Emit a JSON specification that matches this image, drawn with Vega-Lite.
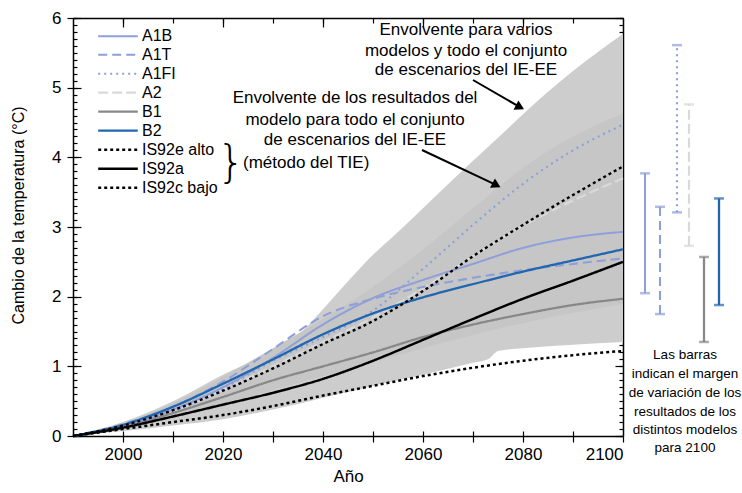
{
  "$schema": "https://vega.github.io/schema/vega-lite/v6.json",
  "width": 550,
  "height": 418,
  "autosize": {"type": "none"},
  "padding": {"left": 73, "top": 18, "right": 119, "bottom": 57},
  "background": "white",
  "config": {
    "view": {"stroke": null},
    "font": "Liberation Sans",
    "axis": {"zindex": 1, "grid": false, "domainColor": "black", "tickColor": "black", "labelColor": "black", "titleColor": "black", "domainWidth": 1.5, "tickWidth": 1.2, "labelFont": "Liberation Sans", "titleFont": "Liberation Sans"}
  },
  "resolve": {"axis": {"x": "independent", "y": "independent"}},
  "datasets": {
    "outer": [
      {"year": 1990, "lo": 0, "hi": 0},
      {"year": 2000, "lo": 0.07, "hi": 0.2},
      {"year": 2010, "lo": 0.15, "hi": 0.5},
      {"year": 2020, "lo": 0.24, "hi": 0.88},
      {"year": 2030, "lo": 0.38, "hi": 1.22},
      {"year": 2035, "lo": 0.46, "hi": 1.45},
      {"year": 2040, "lo": 0.55, "hi": 1.82},
      {"year": 2045, "lo": 0.63, "hi": 2.22},
      {"year": 2050, "lo": 0.72, "hi": 2.6},
      {"year": 2055, "lo": 0.8, "hi": 2.93},
      {"year": 2060, "lo": 0.88, "hi": 3.27},
      {"year": 2070, "lo": 1.05, "hi": 3.95},
      {"year": 2073, "lo": 1.1, "hi": 4.15},
      {"year": 2075, "lo": 1.22, "hi": 4.28},
      {"year": 2080, "lo": 1.26, "hi": 4.62},
      {"year": 2090, "lo": 1.31, "hi": 5.24},
      {"year": 2100, "lo": 1.35, "hi": 5.77}
    ],
    "inner": [
      {"year": 1990, "lo": 0, "hi": 0},
      {"year": 2000, "lo": 0.1, "hi": 0.18},
      {"year": 2010, "lo": 0.26, "hi": 0.47},
      {"year": 2020, "lo": 0.45, "hi": 0.85},
      {"year": 2030, "lo": 0.66, "hi": 1.26},
      {"year": 2040, "lo": 0.86, "hi": 1.68},
      {"year": 2050, "lo": 1.06, "hi": 2.14},
      {"year": 2060, "lo": 1.26, "hi": 2.68},
      {"year": 2070, "lo": 1.45, "hi": 3.27},
      {"year": 2080, "lo": 1.62, "hi": 3.85},
      {"year": 2090, "lo": 1.77, "hi": 4.3},
      {"year": 2100, "lo": 1.9, "hi": 4.63}
    ],
    "lines": [
      {"s": "A2", "year": 1990, "t": 0}, {"s": "A2", "year": 2000, "t": 0.14}, {"s": "A2", "year": 2010, "t": 0.36}, {"s": "A2", "year": 2020, "t": 0.66}, {"s": "A2", "year": 2030, "t": 1.0}, {"s": "A2", "year": 2040, "t": 1.35}, {"s": "A2", "year": 2050, "t": 1.7}, {"s": "A2", "year": 2060, "t": 2.12}, {"s": "A2", "year": 2070, "t": 2.58}, {"s": "A2", "year": 2080, "t": 3.02}, {"s": "A2", "year": 2090, "t": 3.38}, {"s": "A2", "year": 2100, "t": 3.7},
      {"s": "B1", "year": 1990, "t": 0}, {"s": "B1", "year": 2000, "t": 0.13}, {"s": "B1", "year": 2010, "t": 0.33}, {"s": "B1", "year": 2020, "t": 0.56}, {"s": "B1", "year": 2030, "t": 0.8}, {"s": "B1", "year": 2040, "t": 1.0}, {"s": "B1", "year": 2050, "t": 1.2}, {"s": "B1", "year": 2060, "t": 1.42}, {"s": "B1", "year": 2070, "t": 1.6}, {"s": "B1", "year": 2080, "t": 1.75}, {"s": "B1", "year": 2090, "t": 1.88}, {"s": "B1", "year": 2100, "t": 1.97},
      {"s": "A1B", "year": 1990, "t": 0}, {"s": "A1B", "year": 2000, "t": 0.15}, {"s": "A1B", "year": 2010, "t": 0.38}, {"s": "A1B", "year": 2020, "t": 0.7}, {"s": "A1B", "year": 2030, "t": 1.12}, {"s": "A1B", "year": 2040, "t": 1.6}, {"s": "A1B", "year": 2050, "t": 1.98}, {"s": "A1B", "year": 2060, "t": 2.24}, {"s": "A1B", "year": 2070, "t": 2.47}, {"s": "A1B", "year": 2080, "t": 2.7}, {"s": "A1B", "year": 2090, "t": 2.85}, {"s": "A1B", "year": 2100, "t": 2.93},
      {"s": "A1T", "year": 1990, "t": 0}, {"s": "A1T", "year": 2000, "t": 0.17}, {"s": "A1T", "year": 2010, "t": 0.42}, {"s": "A1T", "year": 2020, "t": 0.78}, {"s": "A1T", "year": 2030, "t": 1.25}, {"s": "A1T", "year": 2040, "t": 1.72}, {"s": "A1T", "year": 2050, "t": 1.97}, {"s": "A1T", "year": 2060, "t": 2.14}, {"s": "A1T", "year": 2070, "t": 2.27}, {"s": "A1T", "year": 2080, "t": 2.38}, {"s": "A1T", "year": 2090, "t": 2.47}, {"s": "A1T", "year": 2100, "t": 2.55},
      {"s": "A1FI", "year": 1990, "t": 0}, {"s": "A1FI", "year": 2000, "t": 0.14}, {"s": "A1FI", "year": 2010, "t": 0.36}, {"s": "A1FI", "year": 2020, "t": 0.68}, {"s": "A1FI", "year": 2030, "t": 1.08}, {"s": "A1FI", "year": 2040, "t": 1.42}, {"s": "A1FI", "year": 2050, "t": 1.8}, {"s": "A1FI", "year": 2060, "t": 2.4}, {"s": "A1FI", "year": 2070, "t": 3.03}, {"s": "A1FI", "year": 2080, "t": 3.62}, {"s": "A1FI", "year": 2090, "t": 4.1}, {"s": "A1FI", "year": 2100, "t": 4.47},
      {"s": "B2", "year": 1990, "t": 0}, {"s": "B2", "year": 2000, "t": 0.16}, {"s": "B2", "year": 2010, "t": 0.42}, {"s": "B2", "year": 2020, "t": 0.75}, {"s": "B2", "year": 2030, "t": 1.1}, {"s": "B2", "year": 2040, "t": 1.46}, {"s": "B2", "year": 2050, "t": 1.76}, {"s": "B2", "year": 2060, "t": 1.99}, {"s": "B2", "year": 2070, "t": 2.18}, {"s": "B2", "year": 2080, "t": 2.36}, {"s": "B2", "year": 2090, "t": 2.52}, {"s": "B2", "year": 2100, "t": 2.68},
      {"s": "IS92c bajo", "year": 1990, "t": 0}, {"s": "IS92c bajo", "year": 2000, "t": 0.1}, {"s": "IS92c bajo", "year": 2010, "t": 0.2}, {"s": "IS92c bajo", "year": 2020, "t": 0.3}, {"s": "IS92c bajo", "year": 2030, "t": 0.43}, {"s": "IS92c bajo", "year": 2040, "t": 0.58}, {"s": "IS92c bajo", "year": 2050, "t": 0.72}, {"s": "IS92c bajo", "year": 2060, "t": 0.86}, {"s": "IS92c bajo", "year": 2070, "t": 0.98}, {"s": "IS92c bajo", "year": 2080, "t": 1.08}, {"s": "IS92c bajo", "year": 2090, "t": 1.16}, {"s": "IS92c bajo", "year": 2100, "t": 1.22},
      {"s": "IS92a", "year": 1990, "t": 0}, {"s": "IS92a", "year": 2000, "t": 0.12}, {"s": "IS92a", "year": 2010, "t": 0.28}, {"s": "IS92a", "year": 2020, "t": 0.45}, {"s": "IS92a", "year": 2030, "t": 0.62}, {"s": "IS92a", "year": 2040, "t": 0.82}, {"s": "IS92a", "year": 2050, "t": 1.08}, {"s": "IS92a", "year": 2060, "t": 1.38}, {"s": "IS92a", "year": 2070, "t": 1.68}, {"s": "IS92a", "year": 2080, "t": 1.97}, {"s": "IS92a", "year": 2090, "t": 2.23}, {"s": "IS92a", "year": 2100, "t": 2.5},
      {"s": "IS92e alto", "year": 1990, "t": 0}, {"s": "IS92e alto", "year": 2000, "t": 0.15}, {"s": "IS92e alto", "year": 2010, "t": 0.37}, {"s": "IS92e alto", "year": 2020, "t": 0.65}, {"s": "IS92e alto", "year": 2030, "t": 0.97}, {"s": "IS92e alto", "year": 2040, "t": 1.32}, {"s": "IS92e alto", "year": 2050, "t": 1.65}, {"s": "IS92e alto", "year": 2060, "t": 2.08}, {"s": "IS92e alto", "year": 2070, "t": 2.58}, {"s": "IS92e alto", "year": 2080, "t": 3.03}, {"s": "IS92e alto", "year": 2090, "t": 3.46}, {"s": "IS92e alto", "year": 2100, "t": 3.87}
    ],
    "bars": [
      {"s": "A1B", "x": 2104.4, "lo": 2.05, "hi": 3.77},
      {"s": "A1T", "x": 2107.4, "lo": 1.75, "hi": 3.29},
      {"s": "A1FI", "x": 2110.8, "lo": 3.21, "hi": 5.61},
      {"s": "A2", "x": 2113.2, "lo": 2.73, "hi": 4.76},
      {"s": "B1", "x": 2116.2, "lo": 1.35, "hi": 2.57},
      {"s": "B2", "x": 2119.2, "lo": 1.88, "hi": 3.41}
    ],
    "notes": [
      {"x": 2068.6, "y": 5.83, "text": "Envolvente para varios"},
      {"x": 2068.6, "y": 5.53, "text": "modelos y todo el conjunto"},
      {"x": 2068.6, "y": 5.25, "text": "de escenarios del IE-EE"},
      {"x": 2046.4, "y": 4.85, "text": "Envolvente de los resultados del"},
      {"x": 2046.4, "y": 4.54, "text": "modelo para todo el conjunto"},
      {"x": 2046.4, "y": 4.25, "text": "de escenarios del IE-EE"}
    ],
    "method": [
      {"x": 2024.0, "y": 3.92, "text": "(método del TIE)"}
    ],
    "brace": [
      {"x": 2021.6, "y": 3.91, "text": "}"}
    ],
    "barnote": [
      {"x": 2112.4, "y": 1.163, "text": "Las barras"},
      {"x": 2112.4, "y": 0.89, "text": "indican el margen"},
      {"x": 2112.4, "y": 0.617, "text": "de variación de los"},
      {"x": 2112.4, "y": 0.344, "text": "resultados de los"},
      {"x": 2112.4, "y": 0.086, "text": "distintos modelos"},
      {"x": 2112.4, "y": -0.172, "text": "para 2100"}
    ],
    "arrows": [
      {"x1": 2070.0, "y1": 5.11, "x2": 2079.4, "y2": 4.72},
      {"x1": 2059.8, "y1": 4.105, "x2": 2074.7, "y2": 3.6}
    ]
  },
  "layer": [
    {
      "data": {"name": "outer"},
      "mark": {"type": "area", "color": "#cdcdcd", "interpolate": "monotone"},
      "encoding": {
        "x": {"field": "year", "type": "quantitative", "scale": {"domain": [1990, 2100], "nice": false, "zero": false},
          "axis": {"orient": "bottom", "values": [2000, 2010, 2020, 2030, 2040, 2050, 2060, 2070, 2080, 2090, 2100], "format": "d", "labelExpr": "datum.value % 20 === 0 ? datum.label : ''", "labelOverlap": false, "tickSize": 6, "labelPadding": 4, "labelFontSize": 17, "title": "Año", "titleFontSize": 17, "titleFontWeight": "normal", "titlePadding": 6}},
        "y": {"field": "lo", "type": "quantitative", "scale": {"domain": [0, 6], "nice": false, "zero": false},
          "axis": {"orient": "left", "values": [0, 1, 2, 3, 4, 5, 6], "tickSize": 6, "labelPadding": 6, "labelFontSize": 17, "title": "Cambio de la temperatura (°C)", "titleFontSize": 16, "titleFontWeight": "normal", "titleX": -55, "titleY": 197, "titleAngle": -90, "titleAlign": "center", "titleBaseline": "middle"}},
        "y2": {"field": "hi"}
      }
    },
    {
      "data": {"name": "inner"},
      "mark": {"type": "area", "color": "#c6c6c6", "interpolate": "monotone"},
      "encoding": {
        "x": {"field": "year", "type": "quantitative",
          "axis": {"orient": "top", "values": [2000, 2010, 2020, 2030, 2040, 2050, 2060, 2070, 2080, 2090], "tickSize": -5, "labels": false, "title": null}},
        "y": {"field": "lo", "type": "quantitative",
          "axis": {"orient": "right", "values": [0, 0.1, 0.2, 0.3, 0.4, 0.5, 0.6, 0.7, 0.8, 0.9, 1, 1.1, 1.2, 1.3, 1.4, 1.5, 1.6, 1.7, 1.8, 1.9, 2, 2.1, 2.2, 2.3, 2.4, 2.5, 2.6, 2.7, 2.8, 2.9, 3, 3.1, 3.2, 3.3, 3.4, 3.5, 3.6, 3.7, 3.8, 3.9, 4, 4.1, 4.2, 4.3, 4.4, 4.5, 4.6, 4.7, 4.8, 4.9, 5, 5.1, 5.2, 5.3, 5.4, 5.5, 5.6, 5.7, 5.8, 5.9, 6], "tickSize": -4, "labels": false, "title": null}},
        "y2": {"field": "hi"}
      }
    },
    {
      "data": {"name": "lines"},
      "mark": {"type": "line", "interpolate": "monotone"},
      "encoding": {
        "x": {"field": "year", "type": "quantitative",
          "axis": {"orient": "bottom", "values": [2000, 2010, 2020, 2030, 2040, 2050, 2060, 2070, 2080, 2090], "tickSize": -5, "labels": false, "domain": false, "title": null}},
        "y": {"field": "t", "type": "quantitative",
          "axis": {"orient": "left", "values": [0, 0.1, 0.2, 0.3, 0.4, 0.5, 0.6, 0.7, 0.8, 0.9, 1, 1.1, 1.2, 1.3, 1.4, 1.5, 1.6, 1.7, 1.8, 1.9, 2, 2.1, 2.2, 2.3, 2.4, 2.5, 2.6, 2.7, 2.8, 2.9, 3, 3.1, 3.2, 3.3, 3.4, 3.5, 3.6, 3.7, 3.8, 3.9, 4, 4.1, 4.2, 4.3, 4.4, 4.5, 4.6, 4.7, 4.8, 4.9, 5, 5.1, 5.2, 5.3, 5.4, 5.5, 5.6, 5.7, 5.8, 5.9, 6], "tickSize": -4, "labels": false, "domain": false, "title": null}},
        "color": {"field": "s", "type": "nominal",
          "scale": {"domain": ["A1B", "A1T", "A1FI", "A2", "B1", "B2", "IS92e alto", "IS92a", "IS92c bajo"], "range": ["#8e9fd9", "#8e9fd9", "#8e9fd9", "#d9d9d9", "#888888", "#2166b0", "#000000", "#000000", "#000000"]},
          "legend": {"orient": "none", "legendX": 34.5, "legendY": 8.2, "title": null, "symbolType": "M-2.2,0H2.2", "symbolSize": 324, "labelFontSize": 16, "labelOffset": 13.5, "rowPadding": 0, "padding": 0, "labelLimit": 200, "labelColor": "black"}},
        "strokeDash": {"field": "s", "type": "nominal",
          "scale": {"domain": ["A1B", "A1T", "A1FI", "A2", "B1", "B2", "IS92e alto", "IS92a", "IS92c bajo"], "range": [[1, 0], [9, 5], [2, 4], [10, 4], [1, 0], [1, 0], [3, 3], [1, 0], [3, 3]]},
          "legend": {"orient": "none", "legendX": 34.5, "legendY": 8.2, "title": null, "symbolType": "M-2.2,0H2.2", "symbolSize": 324, "labelFontSize": 16, "labelOffset": 13.5, "rowPadding": 0, "padding": 0, "labelLimit": 200, "labelColor": "black"}},
        "strokeWidth": {"field": "s", "type": "nominal",
          "scale": {"domain": ["A1B", "A1T", "A1FI", "A2", "B1", "B2", "IS92e alto", "IS92a", "IS92c bajo"], "range": [2, 2.5, 2.5, 4.5, 3, 2.5, 2.5, 2, 2.5]},
          "legend": {"orient": "none", "legendX": 34.5, "legendY": 8.2, "title": null, "symbolType": "M-2.2,0H2.2", "symbolSize": 324, "labelFontSize": 16, "labelOffset": 13.5, "rowPadding": 0, "padding": 0, "labelLimit": 200, "labelColor": "black"}}
      }
    },
    {
      "data": {"name": "bars"},
      "mark": {"type": "rule"},
      "encoding": {
        "x": {"field": "x", "type": "quantitative",
          "axis": {"orient": "top", "values": [2000, 2020, 2040, 2060, 2080], "tickSize": -9, "labels": false, "domain": false, "title": null}},
        "y": {"field": "lo", "type": "quantitative",
          "axis": {"orient": "right", "values": [0, 1, 2, 3, 4, 5, 6], "tickSize": -8, "labels": false, "domain": false, "title": null}},
        "y2": {"field": "hi"},
        "color": {"field": "s", "type": "nominal", "legend": null,
          "scale": {"domain": ["A1B", "A1T", "A1FI", "A2", "B1", "B2", "IS92e alto", "IS92a", "IS92c bajo"], "range": ["#8e9fd9", "#8e9fd9", "#8e9fd9", "#d9d9d9", "#888888", "#2166b0", "#000000", "#000000", "#000000"]}},
        "strokeDash": {"field": "s", "type": "nominal", "legend": null,
          "scale": {"domain": ["A1B", "A1T", "A1FI", "A2", "B1", "B2", "IS92e alto", "IS92a", "IS92c bajo"], "range": [[1, 0], [9, 5], [2, 4], [10, 4], [1, 0], [1, 0], [3, 3], [1, 0], [3, 3]]}},
        "strokeWidth": {"field": "s", "type": "nominal", "legend": null,
          "scale": {"domain": ["A1B", "A1T", "A1FI", "A2", "B1", "B2", "IS92e alto", "IS92a", "IS92c bajo"], "range": [2, 2.5, 2.5, 4.5, 3, 2.5, 2.5, 2, 2.5]}}
      }
    },
    {
      "data": {"name": "bars"},
      "mark": {"type": "tick", "orient": "horizontal", "size": 10, "thickness": 2.5},
      "encoding": {
        "x": {"field": "x", "type": "quantitative", "axis": null},
        "y": {"field": "lo", "type": "quantitative",
          "axis": {"orient": "left", "values": [0, 1, 2, 3, 4, 5, 6], "tickSize": -8, "labels": false, "domain": false, "title": null}},
        "color": {"field": "s", "type": "nominal", "legend": null,
          "scale": {"domain": ["A1B", "A1T", "A1FI", "A2", "B1", "B2", "IS92e alto", "IS92a", "IS92c bajo"], "range": ["#8e9fd9", "#8e9fd9", "#8e9fd9", "#d9d9d9", "#888888", "#2166b0", "#000000", "#000000", "#000000"]}}
      }
    },
    {
      "data": {"name": "bars"},
      "mark": {"type": "tick", "orient": "horizontal", "size": 10, "thickness": 2.5},
      "encoding": {
        "x": {"field": "x", "type": "quantitative", "axis": null},
        "y": {"field": "hi", "type": "quantitative", "axis": null},
        "color": {"field": "s", "type": "nominal", "legend": null,
          "scale": {"domain": ["A1B", "A1T", "A1FI", "A2", "B1", "B2", "IS92e alto", "IS92a", "IS92c bajo"], "range": ["#8e9fd9", "#8e9fd9", "#8e9fd9", "#d9d9d9", "#888888", "#2166b0", "#000000", "#000000", "#000000"]}}
      }
    },
    {
      "data": {"name": "notes"},
      "mark": {"type": "text", "fontSize": 17, "align": "center", "baseline": "middle", "color": "black", "font": "Liberation Sans"},
      "encoding": {
        "x": {"field": "x", "type": "quantitative", "axis": null},
        "y": {"field": "y", "type": "quantitative", "axis": null},
        "text": {"field": "text"}
      }
    },
    {
      "data": {"name": "method"},
      "mark": {"type": "text", "fontSize": 17, "align": "left", "baseline": "middle", "color": "black", "font": "Liberation Sans"},
      "encoding": {
        "x": {"field": "x", "type": "quantitative", "axis": null},
        "y": {"field": "y", "type": "quantitative", "axis": null},
        "text": {"field": "text"}
      }
    },
    {
      "data": {"name": "brace"},
      "mark": {"type": "text", "fontSize": 44, "align": "center", "baseline": "middle", "color": "black", "font": "DejaVu Sans", "fontWeight": 200},
      "encoding": {
        "x": {"field": "x", "type": "quantitative", "axis": null},
        "y": {"field": "y", "type": "quantitative", "axis": null},
        "text": {"field": "text"}
      }
    },
    {
      "data": {"name": "barnote"},
      "mark": {"type": "text", "fontSize": 13.5, "align": "center", "baseline": "middle", "color": "black", "font": "Liberation Sans"},
      "encoding": {
        "x": {"field": "x", "type": "quantitative", "axis": null},
        "y": {"field": "y", "type": "quantitative", "axis": null},
        "text": {"field": "text"}
      }
    },
    {
      "data": {"name": "arrows"},
      "mark": {"type": "rule", "color": "black", "strokeWidth": 2},
      "encoding": {
        "x": {"field": "x1", "type": "quantitative", "axis": null},
        "y": {"field": "y1", "type": "quantitative", "axis": null},
        "x2": {"field": "x2"},
        "y2": {"field": "y2"}
      }
    },
    {
      "data": {"name": "arrows"},
      "mark": {"type": "point", "shape": "triangle-right", "filled": true, "color": "black", "size": 110, "angle": 28, "opacity": 1},
      "encoding": {
        "x": {"field": "x2", "type": "quantitative", "axis": null},
        "y": {"field": "y2", "type": "quantitative", "axis": null}
      }
    }
  ]
}
